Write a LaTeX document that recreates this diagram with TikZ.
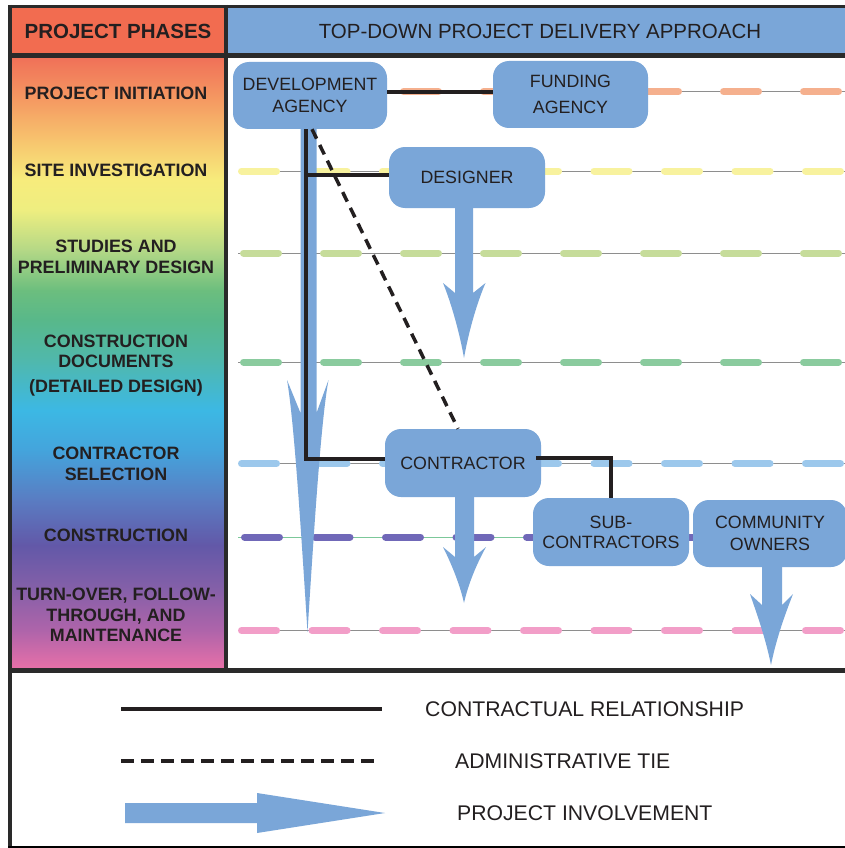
\documentclass[tikz,border=0pt]{standalone}
\usepackage{fontspec}
\setmainfont{Liberation Sans}
\usetikzlibrary{calc}
\pgfdeclarelayer{bg}
\pgfdeclarelayer{arr}
\pgfsetlayers{bg,arr,main}
\definecolor{nodeblue}{HTML}{7AA6D8}
\definecolor{hdrorange}{HTML}{F26C50}
\definecolor{ink}{HTML}{231F20}
\definecolor{framec}{HTML}{2A2A2A}
\definecolor{thin}{HTML}{8E8E8E}
\definecolor{rowA}{HTML}{F5B08E}
\definecolor{rowB}{HTML}{F8F29E}
\definecolor{rowC}{HTML}{C6DC9A}
\definecolor{rowD}{HTML}{8ACB9E}
\definecolor{rowE}{HTML}{9CC8EC}
\definecolor{rowF}{HTML}{7068B8}
\definecolor{rowFthin}{HTML}{7CC89A}
\definecolor{rowG}{HTML}{F29EC8}
\definecolor{g01}{HTML}{F07058}
\definecolor{g02}{HTML}{F59A62}
\definecolor{g03}{HTML}{F7C46E}
\definecolor{g04}{HTML}{F7EC7C}
\definecolor{g05}{HTML}{EEEE80}
\definecolor{g06}{HTML}{B4D886}
\definecolor{g07}{HTML}{6CBE7E}
\definecolor{g08}{HTML}{58B88A}
\definecolor{g09}{HTML}{50B8AC}
\definecolor{g10}{HTML}{3CB8E4}
\definecolor{g11}{HTML}{44A4DC}
\definecolor{g12}{HTML}{5A7CC2}
\definecolor{g13}{HTML}{6258A8}
\definecolor{g14}{HTML}{8660A8}
\definecolor{g15}{HTML}{AE64AA}
\definecolor{g16}{HTML}{E870A8}
\begin{document}
\begin{tikzpicture}[x=1pt,y=-1pt,
 actor/.style={fill=nodeblue, rounded corners=16pt, align=center, text=ink, inner sep=0pt, font=\fontsize{17.8}{22}\selectfont},
 phase/.style={align=center, text=ink, inner sep=0pt, font=\bfseries\fontsize{17.9}{20.5}\selectfont},
 contract/.style={draw=ink, line width=4.8pt},
 admin/.style={draw=ink, line width=3.5pt, dash pattern=on 10.5pt off 7pt},
 involve/.style={fill=nodeblue},
 thinline/.style={draw=thin, line width=1pt},
 dashA/.style={line width=7pt, line cap=round, dash pattern=on 35pt off 45pt},
 dashB/.style={line width=7pt, line cap=round, dash pattern=on 35pt off 35.5pt},
 legendtext/.style={anchor=west, inner sep=0pt, text=ink, font=\fontsize{21.2}{25}\selectfont},
 framerule/.style={draw=framec, line width=4.5pt},
]
\useasboundingbox (0,0) rectangle (844,848);

% phase lines (background layer)
\begin{pgfonlayer}{bg}
\fill[white] (0,0) rectangle (844,848);
\draw[thinline] (238,91.5) -- (848,91.5);
\draw[dashA, rowA] (243.5,91.5) -- (848,91.5);
\draw[thinline] (238,171) -- (848,171);
\draw[dashB, rowB] (241.5,171) -- (848,171);
\draw[thinline] (238,253) -- (848,253);
\draw[dashA, rowC] (243.5,253) -- (848,253);
\draw[thinline] (238,362) -- (848,362);
\draw[dashA, rowD] (243.5,362) -- (848,362);
\draw[thinline] (238,463.5) -- (848,463.5);
\draw[dashB, rowE] (241.5,463.5) -- (848,463.5);
\draw[thinline, draw=rowFthin] (238,537) -- (848,537);
\draw[dashB, rowF] (244.5,537) -- (848,537);
\draw[thinline] (238,630.5) -- (848,630.5);
\draw[dashB, rowG] (241.5,630.5) -- (848,630.5);
\end{pgfonlayer}

% header
\fill[hdrorange] (12,8) rectangle (224,53);
\fill[nodeblue] (228,8) rectangle (848,53);
\node[font=\bfseries\fontsize{20.5}{24}\selectfont, text=ink] (hp) at (118,31) {PROJECT PHASES};
\node[font=\fontsize{20.5}{24}\selectfont, text=ink] (ht) at (540,31) {TOP-DOWN PROJECT DELIVERY APPROACH};

% gradient column
\shade[top color=g01, bottom color=g02] (12,57) rectangle (224,100.5);
\shade[top color=g02, bottom color=g03] (12,100) rectangle (224,140.5);
\shade[top color=g03, bottom color=g04] (12,140) rectangle (224,180.5);
\shade[top color=g04, bottom color=g05] (12,180) rectangle (224,210.5);
\shade[top color=g05, bottom color=g06] (12,210) rectangle (224,250.5);
\shade[top color=g06, bottom color=g07] (12,250) rectangle (224,290.5);
\shade[top color=g07, bottom color=g08] (12,290) rectangle (224,320.5);
\shade[top color=g08, bottom color=g09] (12,320) rectangle (224,360.5);
\shade[top color=g09, bottom color=g10] (12,360) rectangle (224,410.5);
\shade[top color=g10, bottom color=g11] (12,410) rectangle (224,450.5);
\shade[top color=g11, bottom color=g12] (12,450) rectangle (224,500.5);
\shade[top color=g12, bottom color=g13] (12,500) rectangle (224,545.5);
\shade[top color=g13, bottom color=g14] (12,545) rectangle (224,590.5);
\shade[top color=g14, bottom color=g15] (12,590) rectangle (224,630.5);
\shade[top color=g15, bottom color=g16] (12,630) rectangle (224,669);

% phase labels
\node[phase] (p1) at (116,93) {PROJECT INITIATION};
\node[phase] (p2) at (116,170.5) {SITE INVESTIGATION};
\node[phase] (p3) at (116,257) {STUDIES AND\\PRELIMINARY DESIGN};
\node[phase] (p4) at (116,365.5) {CONSTRUCTION\\DOCUMENTS\\[4.5pt](DETAILED DESIGN)};
\node[phase] (p5) at (116,464) {CONTRACTOR\\SELECTION};
\node[phase] (p6) at (116,535.5) {CONSTRUCTION};
\node[phase] (p7) at (116,615) {TURN-OVER, FOLLOW-\\THROUGH, AND\\MAINTENANCE};

% frame rules
\draw[framerule, line width=3.5pt] (8,6.5) -- (848,6.5);
\draw[framerule, line width=3.5pt] (10,5) -- (10,848);
\draw[framerule] (8,55.5) -- (848,55.5);
\draw[framerule] (226,5) -- (226,670);
\draw[framerule] (8,670.5) -- (848,670.5);
\draw[thin, line width=1.2pt] (8,847) -- (848,847);

% actors
\node[actor, minimum width=154pt, minimum height=67pt] (dev) at (310,95.5) {DEVELOPMENT\\AGENCY};
\node[actor, minimum width=155pt, minimum height=67pt, font=\fontsize{17.8}{26.5}\selectfont] (fund) at (570.5,94.5) {FUNDING\\AGENCY};
\node[actor, minimum width=156pt, minimum height=61pt] (des) at (467,177.5) {DESIGNER};
\node[actor, minimum width=156pt, minimum height=68pt] (con) at (463,463) {CONTRACTOR};
\node[actor, minimum width=156pt, minimum height=68pt, font=\fontsize{17.8}{20}\selectfont] (sub) at (611,532) {SUB-\\CONTRACTORS};
\node[actor, minimum width=154pt, minimum height=67pt] (com) at (770,533.5) {COMMUNITY\\OWNERS};

% project involvement arrows
\begin{pgfonlayer}{arr}
\fill[involve] (300.5,128) -- (300.5,413) -- (287,380)
  .. controls (294,420) and (301,530) .. (307.5,632)
  .. controls (314,530) and (321,420) .. (328.5,380)
  -- (316.5,413) -- (316.5,128) -- cycle;
\fill[involve] (455,205) -- (455,293) -- (443,283)
  .. controls (452,305) and (460,335) .. (464,358)
  .. controls (468,335) and (476,305) .. (485.5,283)
  -- (473,293) -- (473,205) -- cycle;
\fill[involve] (455,494) -- (455,557) -- (443,547)
  .. controls (452,565) and (460,585) .. (464,603)
  .. controls (468,585) and (476,565) .. (486,547)
  -- (474,557) -- (474,494) -- cycle;
\fill[involve] (762,564) -- (762,605) -- (750,594)
  .. controls (758,617) and (766,640) .. (771,665)
  .. controls (776,640) and (784,617) .. (793,594)
  -- (782,605) -- (782,564) -- cycle;
\end{pgfonlayer}

% contractual relationships
\draw[contract] ([yshift=3.5pt]dev.east) -- ([yshift=2.5pt]fund.west);
\draw[contract] ([xshift=-4pt]dev.south) |- ([yshift=4pt]con.west);
\draw[contract] ([yshift=2.5pt]des.west) -| ([xshift=-4pt]dev.south);
\draw[contract] ([yshift=5pt,xshift=-5pt]con.east) -| (sub.north);
% administrative tie
\draw[admin] ([xshift=2pt]dev.south) -- ([xshift=-5pt]con.north);

% legend
\coordinate (l1a) at (121,709);
\coordinate (l1b) at (382,709);
\draw[contract] (l1a) -- (l1b);
\node[legendtext] (t1) at (425,709) {CONTRACTUAL RELATIONSHIP};
\coordinate (l2a) at (121,760.5);
\coordinate (l2b) at (378,760.5);
\draw[draw=ink, line width=4pt, dash pattern=on 13pt off 7pt] (l2a) -- (l2b);
\node[legendtext] (t2) at (455,761) {ADMINISTRATIVE TIE};
\fill[involve] (125,803) -- (257,803) -- (257,793) -- (385,813) -- (257,833) -- (257,823) -- (125,823) -- cycle;
\node[legendtext] (t3) at (457,813) {PROJECT INVOLVEMENT};
\end{tikzpicture}
\end{document}
